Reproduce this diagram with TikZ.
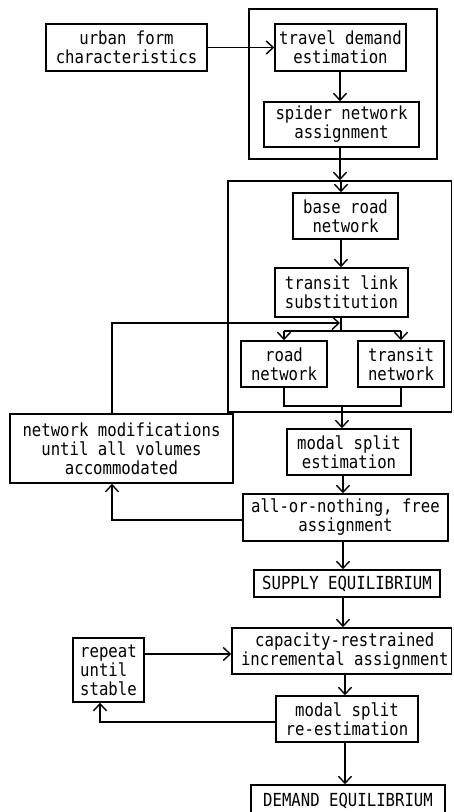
\documentclass[tikz,border=0pt]{standalone}
\usepackage{fontspec}
\setmainfont{DejaVu Sans Mono}[FakeStretch=0.87]
\usetikzlibrary{arrows.meta}
\begin{document}
\begin{tikzpicture}[x=1pt,y=-1pt,
  line width=1.5pt,
  font=\fontsize{18}{19}\selectfont,
  box/.style={draw, inner sep=0pt, align=center},
  arr/.style={-{Straight Barb[length=7pt,width=13pt,line width=1.4pt]}}]
\useasboundingbox (0,0) rectangle (453,812);

% grouping frames
\node[box, minimum width=188pt, minimum height=150pt] (groupA) at (343,84) {};
\node[box, minimum width=223.5pt, minimum height=231pt] (groupB) at (339.75,296.5) {};

% process boxes
\node[box, minimum width=161pt, minimum height=47pt] (urban) at (126.5,47.5) {urban form\\characteristics};
\node[box, minimum width=131pt, minimum height=47pt] (travel) at (340.5,47.5) {travel demand\\estimation};
\node[box, minimum width=155pt, minimum height=45pt] (spider) at (341.5,124.5) {spider network\\assignment};
\node[box, minimum width=105pt, minimum height=46pt] (base) at (345.5,216) {base road\\network};
\node[box, minimum width=133pt, minimum height=49pt] (tlink) at (341.5,292.5) {transit link\\substitution};
\node[box, minimum width=86pt, minimum height=46pt] (road) at (284,364) {road\\network};
\node[box, minimum width=86pt, minimum height=46pt] (transit) at (401,364) {transit\\network};
\node[box, minimum width=124pt, minimum height=46pt] (modal) at (349,452) {modal split\\estimation};
\node[box, minimum width=223pt, minimum height=69pt] (netmod) at (121.5,448.5) {network modifications\\until all volumes\\accommodated};
\node[box, minimum width=205pt, minimum height=47pt] (aon) at (345.5,517.5) {all-or-nothing, free\\assignment};
\node[box, minimum width=186pt, minimum height=27pt] (supply) at (347,583.5) {SUPPLY EQUILIBRIUM};
\node[box, minimum width=219.5pt, minimum height=46pt] (capacity) at (341.75,651) {\hspace*{6pt}capacity-restrained\\\hspace*{6pt}incremental assignment};
\node[box, minimum width=71pt, minimum height=64pt, align=left] (repeat) at (108.5,670) {repeat\\until\\stable};
\node[box, minimum width=142pt, minimum height=46pt] (remod) at (347,719) {modal split\\re-estimation};
\node[box, minimum width=194pt, minimum height=32pt] (demand) at (348,801) {DEMAND EQUILIBRIUM};

% vertical axes of the main flow
\coordinate (axA) at (340,0);
\coordinate (axB) at (341,0);
\coordinate (axC) at (343,0);
\coordinate (axD) at (345,0);

% junction points
\coordinate (split) at (341,331);
\coordinate (join) at (342,406);
\coordinate (fbEnd) at (340,323);
\coordinate (fbLow) at (112,520);
\coordinate (rpLow) at (100,722);
\coordinate (rpIn) at (144,654);

% main flow
\draw[arr] (urban.east) -- (travel.west);
\draw[arr] (travel.south -| axA) -- (spider.north -| axA);
\draw[arr] (spider.south -| axA) -- (groupB.north -| axA);
\draw[arr] (groupB.north -| axB) -- (base.north -| axB);
\draw[arr] (base.south -| axB) -- (tlink.north -| axB);
\draw (tlink.south -| split) -- (split);
\draw (road.north |- split) -- (transit.north |- split);
\draw[arr] (road.north |- split) -- (road.north);
\draw[arr] (transit.north |- split) -- (transit.north);
\draw (road.south) -- (road.south |- join) -- (transit.south |- join) -- (transit.south);
\draw[arr] (join) -- (join |- modal.north);
\draw[arr] (modal.south -| axC) -- (aon.north -| axC);
\draw[arr] (aon.south -| axC) -- (supply.north -| axC);
\draw[arr] (supply.south -| axC) -- (capacity.north -| axC);
\draw[arr] (capacity.south -| axD) -- (remod.north -| axD);
\draw[arr] (remod.south -| axD) -- (demand.north -| axD);

% feedback loops
\draw[arr] (aon.west |- fbLow) -- (fbLow) -- (fbLow |- netmod.south);
\draw[arr] (fbLow |- netmod.north) |- (fbEnd);
\draw[arr] (rpIn) -- (capacity.west |- rpIn);
\draw[arr] (remod.west |- rpLow) -- (rpLow) -- (rpLow |- repeat.south);
\end{tikzpicture}
\end{document}
